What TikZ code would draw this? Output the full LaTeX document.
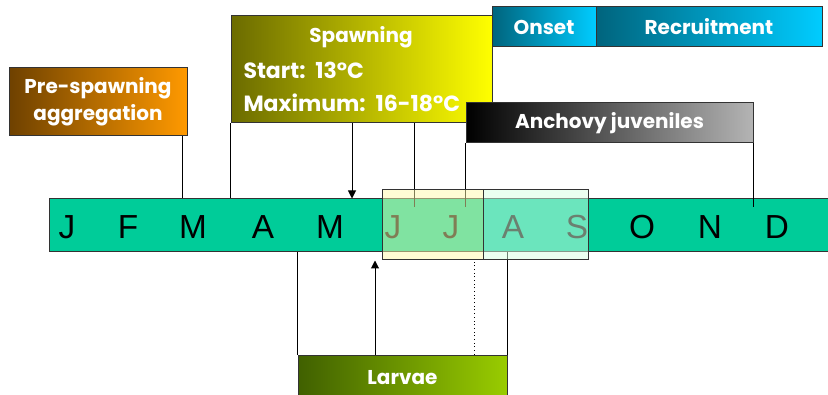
\documentclass[tikz,border=0pt]{standalone}
\usepackage{fontspec}
\usetikzlibrary{arrows.meta}
\newfontfamily\labelfont{Poppins}
\newfontfamily\monthfont{Liberation Sans}
\definecolor{barGreen}{RGB}{0,204,153}
\definecolor{preDark}{RGB}{110,65,0}
\definecolor{preLight}{RGB}{255,153,0}
\definecolor{spawnDark}{RGB}{107,107,0}
\definecolor{spawnLight}{RGB}{255,255,0}
\definecolor{tealDark}{RGB}{0,100,125}
\definecolor{tealLight}{RGB}{0,204,255}
\definecolor{juvLight}{RGB}{180,180,180}
\definecolor{larvDark}{RGB}{64,96,0}
\definecolor{larvLight}{RGB}{153,204,0}
\definecolor{lightYellow}{RGB}{255,250,170}
\definecolor{lightMint}{RGB}{215,255,225}
\tikzset{every picture/.style={line width=0.75pt}}

\begin{document}
\begin{tikzpicture}[x=0.75pt,y=0.75pt,yscale=-1,xscale=1,
  box/.style={draw=black!80, inner sep=0pt, text=white, font=\labelfont\bfseries\fontsize{15}{20}\selectfont},
  spawnline/.style={box, draw=none, anchor=west, font=\labelfont\bfseries\fontsize{16.5}{20}\selectfont},
  month/.style={font=\monthfont\fontsize{25}{30}\selectfont},
  overlay/.style={draw=black!80, inner sep=0pt, minimum height=52.5pt, fill opacity=0.5},
  tip/.style={-{Triangle[length=6pt,width=6pt]}}]
\useasboundingbox (0,0) rectangle (828,395);
\clip (0,0) rectangle (828,395);

%Shape: Month bar
\node [draw=black!80, fill=barGreen, inner sep=0pt, minimum width=589.5pt, minimum height=39.75pt] (bar) at (442,225.5) {};
% Text Node
\foreach \x/\m [count=\i] in {67/J,128/F,193/M,263/A,330/M,393/J,451/J,513/A,577/S,642/O,710/N,777/D}
  \node [month] (m\i) at (\x,227) {\m};

%Tick positions
\coordinate (c1) at (182,0);
\coordinate (c2) at (352,0);
\coordinate (c3) at (414,0);
\coordinate (c4) at (375,0);
\coordinate (c5) at (474,0);
\coordinate (tickLow) at (0,207);

%Shape: Boxes
\node [box, left color=preDark, right color=preLight, minimum width=133.5pt, minimum height=51pt, align=center] (prespawn) at (98,102) {Pre-spawning\\aggregation};
\node [box, left color=spawnDark, right color=spawnLight, minimum width=195.75pt, minimum height=80.25pt] (spawning) at (361.5,69.5) {};
\node [box, left color=tealDark, right color=tealLight, minimum width=78pt, minimum height=30pt] (onset) at (544,27) {Onset};
\node [box, left color=tealDark, right color=tealLight, minimum width=169.5pt, minimum height=30pt] (recruit) at (709,27) {Recruitment};
\node [box, left color=black, right color=juvLight, minimum width=215.25pt, minimum height=30pt] (juveniles) at (609.5,123) {Anchovy juveniles};
\node [box, left color=larvDark, right color=larvLight, minimum width=156.75pt, minimum height=33.75pt] (larvae) at (402.5,377.5) {Larvae};

% Text Node
\node [box, draw=none] (spawnTitle) at (361,37) {Spawning};
\node [spawnline] (spawnStart) at (243,70) {Start:\hspace{0.45em}13°C};
\node [spawnline] (spawnMax) at (243,103) {Maximum:\hspace{0.45em}16-18°C};

%Straight Lines
\draw (prespawn.south -| c1) -- (bar.north -| c1);
\draw (spawning.south west) -- (spawning.south west |- bar.north);
\draw [tip] (spawning.south -| c2) -- (bar.north -| c2);
\draw (spawning.south -| c3) -- (tickLow -| c3);
\draw (juveniles.south west) -- (juveniles.south west |- tickLow);
\draw (juveniles.south east) -- (juveniles.south east |- tickLow);
\draw (larvae.north west) -- (larvae.north west |- bar.south);
\draw (larvae.north east) -- (larvae.north east |- bar.south);

%Shape: Highlight boxes
\node [overlay, fill=lightYellow, minimum width=75.75pt] (yellowbox) at (432.5,225) {};
\node [overlay, fill=lightMint, minimum width=78.75pt] (mintbox) at (535.5,225) {};

%Straight Lines
\draw [tip] (larvae.north -| c4) -- (yellowbox.south -| c4);
\draw [dotted] (larvae.north -| c5) -- (yellowbox.south -| c5);

\end{tikzpicture}
\end{document}
